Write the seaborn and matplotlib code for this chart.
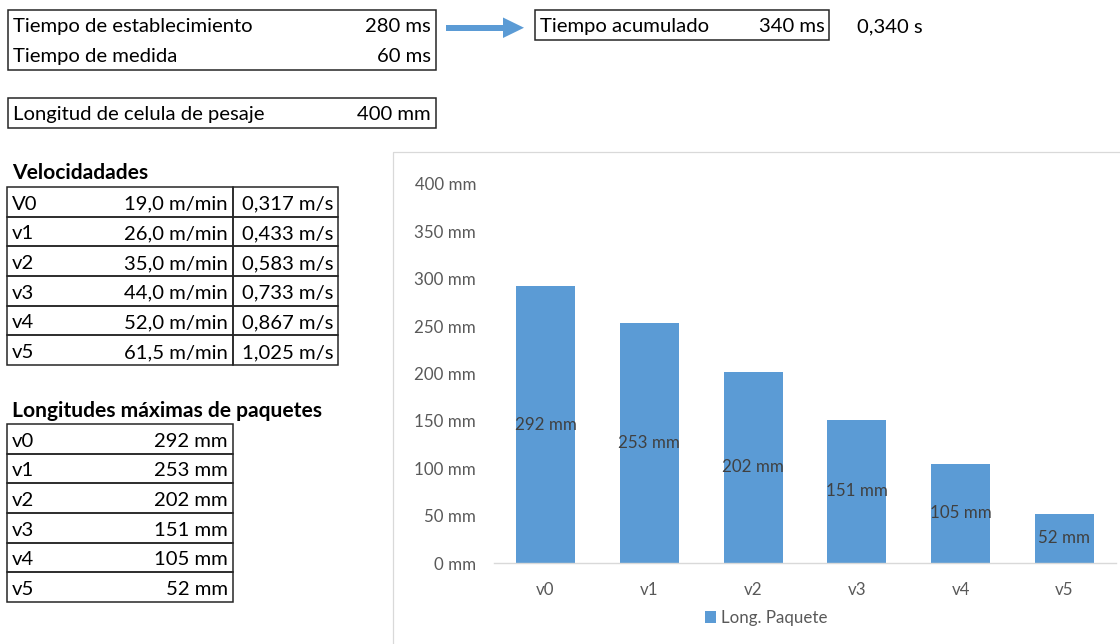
import matplotlib
matplotlib.use("Agg")
import matplotlib.pyplot as plt
from matplotlib.patches import Rectangle, Polygon
import pandas as pd
import seaborn as sns

# ---- sheet values ----
t_establecimiento_ms = 280
t_medida_ms = 60
t_acumulado_ms = 340
t_acumulado_s = 0.340
long_celula_mm = 400

vel_names = ["V0", "v1", "v2", "v3", "v4", "v5"]
vel_m_min = [19.0, 26.0, 35.0, 44.0, 52.0, 61.5]
vel_m_s = [0.317, 0.433, 0.583, 0.733, 0.867, 1.025]

pkg_names = ["v0", "v1", "v2", "v3", "v4", "v5"]
pkg_len_mm = [292, 253, 202, 151, 105, 52]

series_name = "Long. Paquete"
y_ticks = [0, 50, 100, 150, 200, 250, 300, 350, 400]

# ---- styling ----
W, H = 1120, 644
BLUE = "#5B9BD5"
GRID = "#D9D9D9"
AXTXT = "#595959"
LBLTXT = "#404040"
FS = 14.6
FS_BOLD = 15.1
CFS = 12.2

sns.set_theme(style="white")
plt.rcParams["font.family"] = ["Lato", "DejaVu Sans"]


def dec(v, nd):
    return f"{v:.{nd}f}".replace(".", ",")


fig = plt.figure(figsize=(W / 100, H / 100), dpi=100)
fig.patch.set_facecolor("white")

# sheet layer in pixel coordinates (y grows downward)
sheet = fig.add_axes([0, 0, 1, 1], zorder=0)
sheet.set_xlim(0, W)
sheet.set_ylim(H, 0)
sheet.axis("off")


def box(x0, y0, x1, y1, lw=1.1, color="#262626"):
    sheet.add_patch(Rectangle((x0, y0), x1 - x0, y1 - y0, fill=False,
                              lw=lw, ec=color, zorder=2))


def txt(x, y, s, ha="left", bold=False, color="black"):
    sheet.text(x, y, s, ha=ha, va="baseline",
               fontsize=FS_BOLD if bold else FS, color=color,
               fontweight="bold" if bold else "normal", zorder=3)


# time block
box(8, 10, 436, 70)
txt(13, 32, "Tiempo de establecimiento")
txt(431, 32, f"{t_establecimiento_ms} ms", ha="right")
txt(13, 62, "Tiempo de medida")
txt(431, 62, f"{t_medida_ms} ms", ha="right")

# arrow
sheet.add_patch(Rectangle((446, 24.5), 58, 6.5, color=BLUE, lw=0, zorder=2))
sheet.add_patch(Polygon([[503, 17.5], [524, 27.75], [503, 38]], closed=True,
                        color=BLUE, lw=0, zorder=2))

box(535, 10, 829, 40)
txt(540, 32, "Tiempo acumulado")
txt(825, 32, f"{t_acumulado_ms} ms", ha="right")
txt(923, 32, f"{dec(t_acumulado_s, 3)} s", ha="right")

# load cell length
box(8, 98, 436, 128)
txt(13, 120, "Longitud de celula de pesaje")
txt(431, 120, f"{long_celula_mm} mm", ha="right")

# speeds table
txt(12, 179, "Velocidadades", bold=True)
t_top, t_bot = 187, 365
rh = (t_bot - t_top) / len(vel_names)
for i, (n, a, b) in enumerate(zip(vel_names, vel_m_min, vel_m_s)):
    y0 = t_top + i * rh
    box(7, y0, 233, y0 + rh)
    box(233, y0, 338, y0 + rh)
    base = y0 + rh - 7
    txt(12, base, n)
    txt(228, base, f"{dec(a, 1)} m/min", ha="right")
    txt(333, base, f"{dec(b, 3)} m/s", ha="right")

# package length table
txt(12, 417, "Longitudes máximas de paquetes", bold=True)
t_top, t_bot = 424, 602
rh = (t_bot - t_top) / len(pkg_names)
for i, (n, v) in enumerate(zip(pkg_names, pkg_len_mm)):
    y0 = t_top + i * rh
    box(7, y0, 233, y0 + rh)
    base = y0 + rh - 7
    txt(12, base, n)
    txt(228, base, f"{v} mm", ha="right")

# chart frame
sheet.add_patch(Rectangle((393, 152), 760, 520, fill=False, lw=0.9,
                          ec=GRID, zorder=1))

# ---- bar chart ----
x_left, x_right = 493.6, 1116.4
y_zero, y_top = 563, 184
ax = fig.add_axes([x_left / W, (H - y_zero) / H, (x_right - x_left) / W,
                   (y_zero - y_top) / H], zorder=2)
ax.patch.set_alpha(0)

df = pd.DataFrame({"cat": pkg_names, "len": pkg_len_mm})
sns.barplot(data=df, x="cat", y="len", color=BLUE, saturation=1, width=0.57,
            label=series_name, ax=ax, edgecolor="none")
ax.set_xlim(-0.5, len(pkg_names) - 0.5)
ax.set_ylim(0, 400)
ax.set_yticks(y_ticks)
ax.set_yticklabels([f"{t} mm" for t in y_ticks])
ax.set_xlabel("")
ax.set_ylabel("")
for s in ["top", "right", "left"]:
    ax.spines[s].set_visible(False)
ax.spines["bottom"].set_color(GRID)
ax.spines["bottom"].set_linewidth(1.0)
ax.tick_params(axis="y", length=0, pad=12.5, labelsize=CFS, labelcolor=AXTXT)
ax.tick_params(axis="x", length=0, pad=13.5, labelsize=CFS, labelcolor=AXTXT)
ax.grid(False)

ax.bar_label(ax.containers[0], labels=[f"{v} mm" for v in pkg_len_mm],
             label_type="center", color=LBLTXT, fontsize=CFS)

leg = ax.legend(loc="center", bbox_to_anchor=(766 / W, 1 - 618 / H),
                bbox_transform=fig.transFigure, frameon=False,
                handlelength=0.65, handleheight=0.65, handletextpad=0.3,
                fontsize=CFS, borderpad=0)
for t in leg.get_texts():
    t.set_color(AXTXT)

fig.savefig("out.png", dpi=100, facecolor="white")
